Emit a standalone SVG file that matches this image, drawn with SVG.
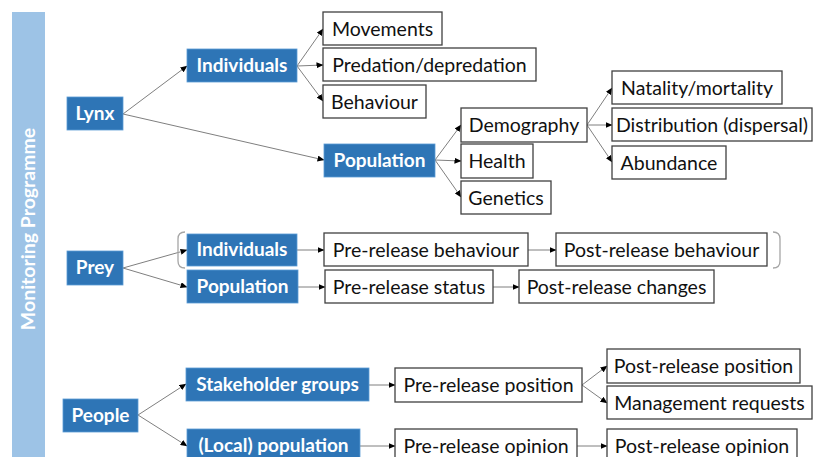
<svg xmlns="http://www.w3.org/2000/svg" width="813" height="457" viewBox="0 0 813 457">
<defs>
<marker id="ah" markerWidth="7" markerHeight="6" refX="6.5" refY="3" orient="auto" markerUnits="userSpaceOnUse">
<path d="M0,0 L7,3 L0,6 Z" fill="#000"/>
</marker>
<style>
.b rect{fill:#2E75B6;stroke:#5B9BD5;stroke-width:0.8}
.b text{fill:#fff;font-family:Lato,"Open Sans",sans-serif;font-weight:bold;font-size:19px;text-anchor:middle}
.w rect{fill:#fff;stroke:#404040;stroke-width:1.3}
.w text{fill:#111;font-family:Lato,"Open Sans",sans-serif;font-size:19.5px;text-anchor:middle}
.c line,.c polyline{stroke:#7f7f7f;stroke-width:1;fill:none}
.c line{marker-end:url(#ah)}
.br{stroke:#a6a6a6;stroke-width:1.3;fill:none}
</style>
</defs>
<rect width="813" height="457" fill="#fff"/>

<g id="sidebar">
<rect x="12" y="12" width="33" height="450" fill="#9DC3E6"/>
<text transform="translate(35,229) rotate(-90)" fill="#fff" font-family="Lato,'Open Sans',sans-serif" font-weight="bold" font-size="19.5" text-anchor="middle">Monitoring Programme</text>
</g>

<g id="connectors" class="c">
<line x1="123" y1="114" x2="187" y2="66"/>
<line x1="123" y1="114" x2="324" y2="160"/>
<line x1="297" y1="66" x2="323" y2="29"/>
<line x1="297" y1="66" x2="323" y2="65"/>
<line x1="297" y1="66" x2="323" y2="101"/>
<line x1="435" y1="160" x2="461" y2="125"/>
<line x1="435" y1="160" x2="461" y2="161"/>
<line x1="435" y1="160" x2="461" y2="197"/>
<line x1="587" y1="125" x2="612" y2="88"/>
<line x1="587" y1="125" x2="612" y2="125"/>
<line x1="587" y1="125" x2="612" y2="162"/>
<line x1="123" y1="268" x2="187" y2="250"/>
<line x1="123" y1="268" x2="187" y2="287"/>
<line x1="297" y1="250" x2="324" y2="250"/>
<line x1="528" y1="250" x2="556" y2="250"/>
<line x1="298" y1="287" x2="325" y2="287"/>
<line x1="493" y1="287" x2="519" y2="287"/>
<line x1="138" y1="415" x2="186" y2="384"/>
<line x1="138" y1="415" x2="187" y2="446"/>
<line x1="369" y1="385" x2="395" y2="385"/>
<line x1="582" y1="385" x2="607" y2="366"/>
<line x1="582" y1="385" x2="607" y2="403"/>
<line x1="360" y1="446" x2="395" y2="446"/>
<line x1="577" y1="446" x2="607" y2="446"/>
</g>

<g id="brackets">
<path class="br" d="M185,232 Q178,232 178,239 L178,261 Q178,268 185,268"/>
<path class="br" d="M773,232 Q780,232 780,239 L780,261 Q780,268 773,268"/>
</g>

<g id="lynx" class="b"><rect x="67" y="97" width="56" height="33"/><text x="95" y="120">Lynx</text></g>
<g id="lynx-individuals" class="b"><rect x="187" y="49" width="110" height="33"/><text x="242" y="72">Individuals</text></g>
<g id="lynx-population" class="b"><rect x="324" y="144" width="111" height="33"/><text x="379.5" y="167">Population</text></g>

<g id="movements" class="w"><rect x="323" y="12" width="119" height="33"/><text x="382.5" y="35.5">Movements</text></g>
<g id="predation" class="w"><rect x="323" y="48" width="213" height="33"/><text x="429.5" y="71.5">Predation/depredation</text></g>
<g id="behaviour" class="w"><rect x="323" y="85" width="103" height="33"/><text x="374.5" y="108.5">Behaviour</text></g>

<g id="demography" class="w"><rect x="461" y="108" width="126" height="34"/><text x="524" y="131.5">Demography</text></g>
<g id="health" class="w"><rect x="461" y="144" width="72" height="34"/><text x="497" y="167.5">Health</text></g>
<g id="genetics" class="w"><rect x="461" y="181" width="90" height="33"/><text x="506" y="204.5">Genetics</text></g>

<g id="natality" class="w"><rect x="612" y="71" width="170" height="33"/><text x="697" y="94.5">Natality/mortality</text></g>
<g id="distribution" class="w"><rect x="612" y="108" width="200" height="33"/><text x="712" y="131.5">Distribution (dispersal)</text></g>
<g id="abundance" class="w"><rect x="612" y="146" width="114" height="33"/><text x="669" y="169.5">Abundance</text></g>

<g id="prey" class="b"><rect x="67" y="251" width="56" height="34"/><text x="95" y="274">Prey</text></g>
<g id="prey-individuals" class="b"><rect x="187" y="234" width="110" height="32"/><text x="242" y="256">Individuals</text></g>
<g id="prey-population" class="b"><rect x="187" y="270" width="111" height="33"/><text x="242.5" y="293">Population</text></g>

<g id="pre-behaviour" class="w"><rect x="324" y="233" width="204" height="33"/><text x="426" y="256.5">Pre-release behaviour</text></g>
<g id="post-behaviour" class="w"><rect x="556" y="233" width="211" height="33"/><text x="661.5" y="256.5">Post-release behaviour</text></g>
<g id="pre-status" class="w"><rect x="325" y="270" width="168" height="33"/><text x="409" y="293.5">Pre-release status</text></g>
<g id="post-changes" class="w"><rect x="519" y="270" width="195" height="33"/><text x="616.5" y="293.5">Post-release changes</text></g>

<g id="people" class="b"><rect x="63" y="399" width="75" height="33"/><text x="100.5" y="422">People</text></g>
<g id="stakeholders" class="b"><rect x="186" y="368" width="183" height="33"/><text x="277.5" y="391">Stakeholder groups</text></g>
<g id="local-population" class="b"><rect x="187" y="429" width="173" height="34"/><text x="273.5" y="452">(Local) population</text></g>

<g id="pre-position" class="w"><rect x="395" y="368" width="187" height="34"/><text x="488.5" y="391.5">Pre-release position</text></g>
<g id="post-position" class="w"><rect x="607" y="349" width="193" height="34"/><text x="703.5" y="372.5">Post-release position</text></g>
<g id="management" class="w"><rect x="607" y="386" width="205" height="33"/><text x="709.5" y="409.5">Management requests</text></g>
<g id="pre-opinion" class="w"><rect x="395" y="429" width="182" height="34"/><text x="486" y="452.5">Pre-release opinion</text></g>
<g id="post-opinion" class="w"><rect x="607" y="429" width="190" height="34"/><text x="702" y="452.5">Post-release opinion</text></g>
</svg>
